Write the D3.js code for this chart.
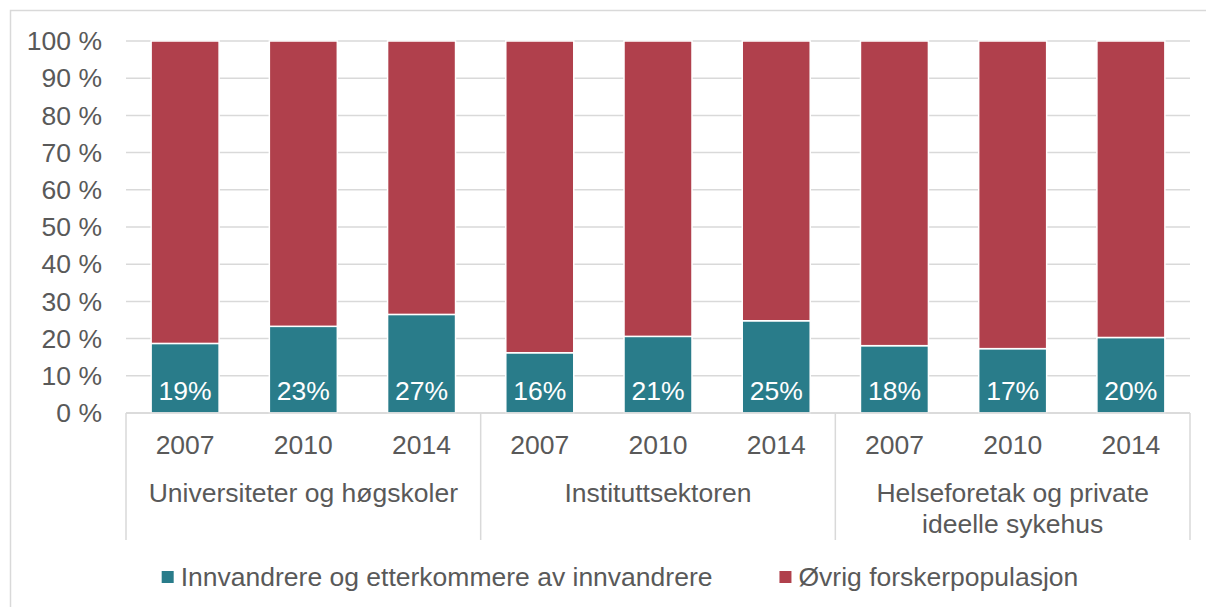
<!DOCTYPE html>
<html>
<head>
<meta charset="utf-8">
<script src="https://cdn.jsdelivr.net/npm/d3@7"></script>
<style>
  body { margin: 0; background: #fff; }
  text { font-family: "Liberation Sans", Arial, sans-serif; fill: #595959; }
</style>
</head>
<body>
<div id="chart"></div>
<script>
// Data
const sectors = ['Universiteter og høgskoler', 'Instituttsektoren', 'Helseforetak og private|ideelle sykehus'];
const years = ['2007', '2010', '2014'];
// share of immigrants (per sector, per year), % of researchers
const immigrantShare = [
  [18.7, 23.3, 26.5],
  [16.2, 20.6, 24.8],
  [18.1, 17.3, 20.3]
];
const shareLabels = [
  ['19%', '23%', '27%'],
  ['16%', '21%', '25%'],
  ['18%', '17%', '20%']
];
const seriesNames = ['Innvandrere og etterkommere av innvandrere', 'Øvrig forskerpopulasjon'];
const seriesColors = ['#297c8a', '#b0404c'];
const yTicks = [0, 10, 20, 30, 40, 50, 60, 70, 80, 90, 100];

const width = 1206, height = 607;
const margin = { top: 41, right: 16, bottom: 194, left: 126 };
const fontSize = 26.5;

const svg = d3.select('#chart').append('svg')
  .attr('width', width)
  .attr('height', height);

// outer chart frame
svg.append('rect')
  .attr('x', 10.5).attr('y', 10.5)
  .attr('width', width).attr('height', height)
  .attr('fill', 'none')
  .attr('stroke', '#d9d9d9')
  .attr('stroke-width', 1.5);

// flatten rows
const rows = [];
sectors.forEach((s, i) => years.forEach((yr, j) => rows.push({
  key: i + '-' + yr, sector: i, year: yr,
  a: immigrantShare[i][j], label: shareLabels[i][j]
})));

const x = d3.scaleBand()
  .domain(rows.map(d => d.key))
  .range([margin.left, width - margin.right])
  .paddingInner(0.425)
  .paddingOuter(0.2125);

const y = d3.scaleLinear()
  .domain([0, 100])
  .range([height - margin.bottom, margin.top]);

// gridlines
svg.append('g').selectAll('line')
  .data(yTicks)
  .join('line')
  .attr('x1', margin.left).attr('x2', width - margin.right)
  .attr('y1', d => y(d)).attr('y2', d => y(d))
  .attr('stroke', '#d9d9d9')
  .attr('stroke-width', 1.5);

// y labels
svg.append('g').selectAll('text')
  .data(yTicks)
  .join('text')
  .attr('x', 102)
  .attr('y', d => y(d))
  .attr('dy', '0.35em')
  .attr('text-anchor', 'end')
  .attr('font-size', fontSize)
  .text(d => d + ' %');

// stacked bars
const stack = d3.stack().keys(['a', 'b'])(rows.map(d => ({ ...d, b: 100 - d.a })));
svg.append('g').selectAll('g')
  .data(stack)
  .join('g')
  .attr('fill', (d, i) => seriesColors[i])
  .selectAll('rect')
  .data(d => d)
  .join('rect')
  .attr('x', d => x(d.data.key))
  .attr('width', x.bandwidth())
  .attr('y', d => y(d[1]))
  .attr('height', d => y(d[0]) - y(d[1]))
  .attr('stroke', '#fff')
  .attr('stroke-width', 1.5);

// value labels
svg.append('g').selectAll('text')
  .data(rows)
  .join('text')
  .attr('x', d => x(d.key) + x.bandwidth() / 2)
  .attr('y', d => Math.max((y(0) + y(d.a)) / 2, y(0) - 22))
  .attr('dy', '0.35em')
  .attr('text-anchor', 'middle')
  .attr('font-size', fontSize)
  .style('fill', '#fff')
  .text(d => d.label);

// category axis
const axisY = y(0);
const groupBottom = 540;
const axis = svg.append('g')
  .attr('stroke', '#d9d9d9')
  .attr('stroke-width', 1.5);
axis.append('line')
  .attr('x1', margin.left).attr('x2', width - margin.right)
  .attr('y1', axisY).attr('y2', axisY);
const bounds = d3.range(sectors.length + 1).map(i => margin.left + i * 3 * (width - margin.left - margin.right) / 9);
axis.selectAll('line.sep')
  .data(bounds)
  .join('line')
  .attr('class', 'sep')
  .attr('x1', d => d).attr('x2', d => d)
  .attr('y1', axisY).attr('y2', groupBottom);

svg.append('g').selectAll('text')
  .data(rows)
  .join('text')
  .attr('x', d => x(d.key) + x.bandwidth() / 2)
  .attr('y', 445)
  .attr('dy', '0.35em')
  .attr('text-anchor', 'middle')
  .attr('font-size', fontSize)
  .text(d => d.year);

const groupLabels = svg.append('g').selectAll('text')
  .data(sectors)
  .join('text')
  .attr('x', (d, i) => (bounds[i] + bounds[i + 1]) / 2)
  .attr('y', 493)
  .attr('text-anchor', 'middle')
  .attr('font-size', fontSize);
groupLabels.selectAll('tspan')
  .data(d => d.split('|'))
  .join('tspan')
  .attr('x', function () { return this.parentNode.getAttribute('x'); })
  .attr('dy', (d, i) => i === 0 ? '0.35em' : '1.17em')
  .text(d => d);

// legend
const legend = svg.append('g');
const items = legend.selectAll('g')
  .data(seriesNames)
  .join('g');
items.append('rect')
  .attr('width', 12).attr('height', 12)
  .attr('y', -6)
  .attr('fill', (d, i) => seriesColors[i]);
items.append('text')
  .attr('x', 19)
  .attr('dy', '0.35em')
  .attr('font-size', fontSize)
  .text(d => d);
let lx = 0;
const gap = 67;
items.each(function () {
  d3.select(this).attr('transform', `translate(${lx},0)`);
  lx += this.getBBox().width + gap;
});
const legendW = lx - gap;
legend.attr('transform', `translate(${620 - legendW / 2},577)`);
</script>
</body>
</html>
